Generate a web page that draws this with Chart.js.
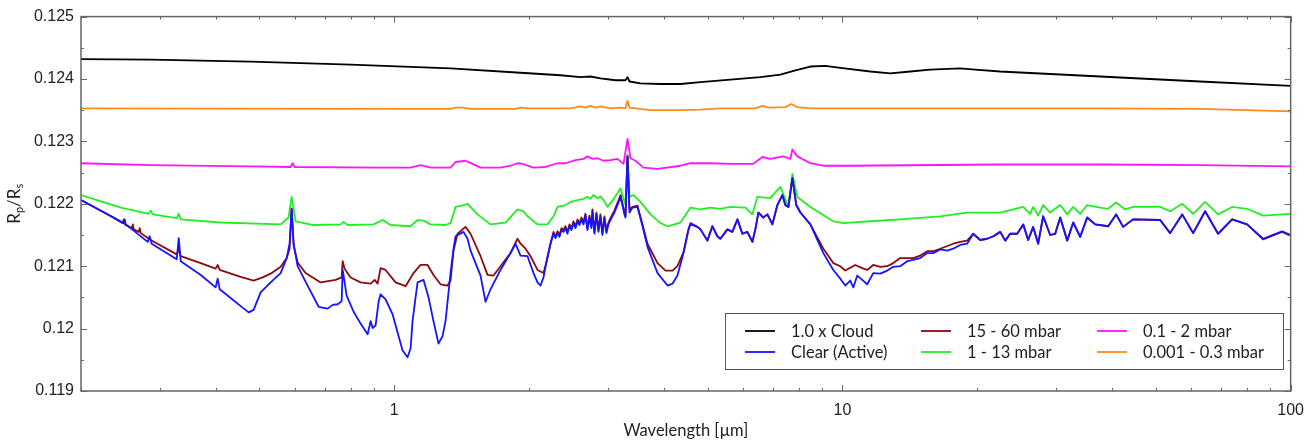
<!DOCTYPE html>
<html><head><meta charset="utf-8">
<script src="https://cdn.jsdelivr.net/npm/chart.js@4.4.1/dist/chart.umd.min.js"></script>
<style>html,body{margin:0;padding:0;background:#fff;}canvas{display:block;}</style>
</head><body>
<canvas id="c" width="1314" height="445"></canvas>
<script>
// ---------- DATA (wavelength in µm, transit radius ratio Rp/Rs) ----------
const seriesNames = ['1.0 x Cloud', 'Clear (Active)', '15 - 60 mbar', '1 - 13 mbar', '0.1 - 2 mbar', '0.001 - 0.3 mbar'];
const xTickValues = [1, 10, 100];
const yTickValues = [0.119, 0.12, 0.121, 0.122, 0.123, 0.124, 0.125];
const xAxisTitle = 'Wavelength [µm]';

const wlCloud = [0.2, 0.2862, 0.4781, 0.7991, 1.3352, 1.9128, 2.349, 2.603, 2.741, 2.884, 3.116, 3.28, 3.314, 3.349, 3.543, 3.925, 4.351, 4.822, 5.623, 6.557, 7.269, 7.852, 8.48, 9.159, 9.888, 11.54, 12.78, 14.17, 15.7, 18.31, 19.78, 22.49, 37.58, 62.81, 100];
const cloud = [0.12432, 0.12431, 0.12428, 0.12423, 0.12417, 0.1241, 0.12406, 0.12403, 0.12404, 0.12401, 0.12398, 0.12398, 0.12403, 0.12396, 0.12393, 0.12392, 0.12392, 0.12395, 0.12399, 0.12403, 0.12407, 0.12414, 0.1242, 0.12421, 0.12418, 0.12412, 0.12409, 0.12412, 0.12415, 0.12417, 0.12415, 0.12412, 0.12404, 0.12396, 0.12389];

const wlClear = [0.2, 0.2366, 0.249, 0.2504, 0.2517, 0.2818, 0.2847, 0.2876, 0.327, 0.3305,
  0.3339, 0.37, 0.3995, 0.4036, 0.4078, 0.4315, 0.4543, 0.4732, 0.4855, 0.5033,
  0.5299, 0.5578, 0.5754, 0.584, 0.5902, 0.5963, 0.6086, 0.6406, 0.6781, 0.7102,
  0.7287, 0.7477, 0.7631, 0.7671, 0.7749, 0.7829, 0.8115, 0.8412, 0.872, 0.8857,
  0.8947, 0.9085, 0.9226, 0.9322, 0.9563, 0.9913, 1.0223, 1.0436, 1.0707, 1.0872,
  1.0985, 1.1156, 1.1272, 1.1623, 1.1927, 1.2232, 1.2552, 1.2814, 1.3013, 1.3215,
  1.3352, 1.356, 1.37, 1.4273, 1.457, 1.4797, 1.5577, 1.5983, 1.6397, 1.7258,
  1.817, 1.8643, 1.9128, 1.9829, 2.0446, 2.0873, 2.1197, 2.1528, 2.1974, 2.2311,
  2.2662, 2.2891, 2.3132, 2.3367, 2.3608, 2.3857, 2.41, 2.4345, 2.4597, 2.4851,
  2.5107, 2.537, 2.5634, 2.5898, 2.6165, 2.6432, 2.67, 2.698, 2.7254, 2.7535,
  2.7682, 2.7967, 2.8253, 2.8545, 2.884, 2.9137, 2.9437, 2.974, 3.0046, 3.0367,
  3.067, 3.0986, 3.1305, 3.1631, 3.197, 3.2288, 3.2622, 3.2802,
  3.3143, 3.3487, 3.4005, 3.4887, 3.5799, 3.6728, 3.8669, 4.0709,
  4.176, 4.2836, 4.4183, 4.5321, 4.5803, 4.748, 4.8217, 4.996, 5.1248, 5.2587,
  5.3408, 5.5363, 5.6796, 5.8305, 5.9786, 6.1348, 6.2951, 6.3923, 6.4925, 6.66,
  6.8, 6.9775, 7.1565, 7.3444, 7.4559, 7.575, 7.732, 7.8886, 8.054, 8.48,
  9.064, 9.54, 9.888, 10.146, 10.409, 10.571, 10.79, 11.071, 11.357, 11.714,
  12.143, 12.587, 12.982, 13.457, 13.947, 14.385, 14.911, 15.455, 15.94, 16.524,
  17.13, 17.664, 18.31, 18.98, 19.57, 20.29, 21.03, 21.72, 22.49, 23.08,
  23.67, 24.54, 25.31, 25.96, 26.64, 27.33, 28.04, 29.07, 29.83, 30.61,
  31.73, 32.72, 33.92, 35.16, 36.63, 39.16, 40.8, 42.29, 44.5, 51.15,
  53.83, 57.28, 60.6, 64.44, 68.88, 74.02, 79.96, 86.79, 95.68, 100];
const clearActive = [0.12206, 0.12178, 0.12169, 0.12175, 0.12167, 0.12139, 0.12148, 0.12136, 0.12111, 0.12145,
  0.12108, 0.12086, 0.12066, 0.1208, 0.12063, 0.12049, 0.12036, 0.12026, 0.1203, 0.12058,
  0.12074, 0.12089, 0.12113, 0.12136, 0.12192, 0.12136, 0.121, 0.12069, 0.12035, 0.12032,
  0.12038, 0.12039, 0.12044, 0.12094, 0.12074, 0.12053, 0.12027, 0.12008, 0.11991, 0.12012,
  0.12001, 0.12005, 0.12043, 0.12055, 0.12047, 0.12023, 0.11988, 0.11965, 0.11954, 0.11968,
  0.12012, 0.1205, 0.12074, 0.12078, 0.1205, 0.12012, 0.11976, 0.11988, 0.12012, 0.12058,
  0.12089, 0.12128, 0.12148, 0.12155, 0.12144, 0.12125, 0.12085, 0.12043, 0.12063, 0.12094,
  0.12121, 0.12136, 0.12117, 0.12116, 0.12089, 0.12074, 0.12069, 0.12082, 0.12116, 0.12136,
  0.12152, 0.12145, 0.12153, 0.12147, 0.12158, 0.12155, 0.12161, 0.12152, 0.12164, 0.12158,
  0.12169, 0.12161, 0.12172, 0.12166, 0.12175, 0.12167, 0.12181, 0.12158, 0.12178, 0.12161,
  0.12188, 0.12152, 0.12183, 0.12155, 0.1218, 0.1215, 0.12177, 0.12153, 0.12167, 0.12174,
  0.1218, 0.12186, 0.12194, 0.12202, 0.12211, 0.12198, 0.12183, 0.12178,
  0.12276, 0.12186, 0.12194, 0.12195, 0.12164, 0.12131, 0.12089, 0.12069,
  0.12072, 0.12085, 0.12121, 0.12158, 0.12167, 0.12163, 0.12159, 0.12141, 0.12164, 0.12148,
  0.12144, 0.12159, 0.12155, 0.12175, 0.12152, 0.12155, 0.12139, 0.12159, 0.12186, 0.12178,
  0.12183, 0.12167, 0.12198, 0.12214, 0.12198, 0.12195, 0.12241, 0.12198, 0.12186, 0.12167,
  0.12121, 0.12094, 0.1208, 0.12069, 0.12077, 0.12066, 0.12085, 0.12078, 0.12071, 0.12089,
  0.12088, 0.12093, 0.12099, 0.121, 0.12108, 0.1211, 0.12113, 0.12121, 0.12121, 0.12127,
  0.12125, 0.12128, 0.12134, 0.12136, 0.12152, 0.12142, 0.12144, 0.12148, 0.12155, 0.12141,
  0.12152, 0.12152, 0.12167, 0.12142, 0.12163, 0.12136, 0.1218, 0.1215, 0.12152, 0.12178,
  0.12141, 0.1217, 0.12147, 0.12178, 0.12167, 0.12164, 0.12183, 0.12163, 0.12175, 0.12174,
  0.12153, 0.12183, 0.12153, 0.12188, 0.12152, 0.12175, 0.12167, 0.12144, 0.12156, 0.1215];

const wl15to60 = [0.2, 0.2331, 0.2478, 0.249, 0.2504, 0.2597, 0.261, 0.2623, 0.2691, 0.2704,
  0.2719, 0.2862, 0.327, 0.3305, 0.3339, 0.37, 0.3995, 0.4036, 0.4078, 0.4543,
  0.4855, 0.5085, 0.5299, 0.5578, 0.5754, 0.584, 0.5902, 0.5963, 0.6086, 0.6341,
  0.6851, 0.7401, 0.7631, 0.7671, 0.7749, 0.7991, 0.8412, 0.8857, 0.904, 0.918,
  0.9322, 0.9563, 1.0067, 1.0598, 1.1041, 1.1445, 1.1864, 1.2232, 1.2682, 1.3147,
  1.3352, 1.356, 1.384, 1.4421, 1.4797, 1.5577, 1.6148, 1.6653, 1.7258, 1.817,
  1.8836, 1.9128, 1.9626, 2.0137, 2.0873, 2.1528, 2.1974, 2.2311,
  2.2662, 2.2891, 2.3132, 2.3367, 2.3608, 2.3857, 2.41, 2.4345, 2.4597, 2.4851,
  2.5107, 2.537, 2.5634, 2.5898, 2.6165, 2.6432, 2.67, 2.698, 2.7254, 2.7535,
  2.7682, 2.7967, 2.8253, 2.8545, 2.884, 2.9137, 2.9437, 2.974, 3.0046, 3.0367,
  3.067, 3.0986, 3.1305, 3.1631, 3.197, 3.2288, 3.2622, 3.2802,
  3.3143, 3.3487, 3.4005, 3.4887, 3.5799, 3.6728, 3.8669, 4.0295, 4.176, 4.2836,
  4.4183, 4.5321, 4.5803, 4.748, 4.8217, 4.996, 5.1248, 5.2587, 5.3408, 5.5363,
  5.6796, 5.8305, 5.9786, 6.1348, 6.2951, 6.3923, 6.4925, 6.66, 6.8, 6.9775,
  7.1565, 7.3444, 7.4559, 7.575, 7.732, 7.8886, 8.054, 8.48, 9.064, 9.54,
  9.888, 10.146, 10.681, 11.071, 11.357, 11.714, 12.143, 12.587, 12.982, 13.457,
  14.385, 14.911, 15.455, 15.94, 16.524, 17.664, 18.31, 18.98, 19.57, 20.29,
  21.03, 21.72, 22.49, 23.08, 23.67, 24.54, 25.31, 25.96, 26.64, 27.33,
  28.04, 29.07, 29.83, 30.61, 31.73, 32.72, 33.92, 35.16, 36.63, 39.16,
  40.8, 42.29, 44.5, 51.15, 53.83, 57.28, 60.6, 64.44, 68.88, 74.02,
  79.96, 86.79, 95.68, 100];
const mbar15to60 = [0.12206, 0.1218, 0.12169, 0.12175, 0.12167, 0.12161, 0.12167, 0.12159, 0.12155, 0.12161,
  0.12153, 0.12142, 0.12119, 0.12127, 0.12116, 0.12105, 0.12096, 0.12102, 0.12094, 0.12083,
  0.12077, 0.12082, 0.12088, 0.12099, 0.12113, 0.12128, 0.12192, 0.12133, 0.12106, 0.12089,
  0.12074, 0.12078, 0.12082, 0.12108, 0.12096, 0.12082, 0.12074, 0.12072, 0.12078, 0.12072,
  0.12097, 0.12094, 0.12074, 0.12068, 0.12089, 0.12102, 0.12102, 0.12086, 0.12071, 0.12069,
  0.12077, 0.12125, 0.12152, 0.12163, 0.12152, 0.12116, 0.12086, 0.12085, 0.121, 0.12121,
  0.12144, 0.12136, 0.12128, 0.12116, 0.12094, 0.12089, 0.12113, 0.12136,
  0.12155, 0.12148, 0.12156, 0.1215, 0.12161, 0.12158, 0.12164, 0.12155, 0.12167, 0.12161,
  0.12172, 0.12164, 0.12175, 0.12169, 0.12178, 0.1217, 0.12184, 0.12161, 0.12181, 0.12164,
  0.12191, 0.12155, 0.12186, 0.12158, 0.12183, 0.12153, 0.1218, 0.12156, 0.1217, 0.12177,
  0.12183, 0.12189, 0.12197, 0.12205, 0.12214, 0.12201, 0.12186, 0.12181,
  0.12276, 0.12191, 0.12195, 0.12197, 0.12167, 0.12136, 0.12105, 0.12093, 0.12093, 0.121,
  0.12122, 0.12159, 0.12169, 0.12163, 0.12159, 0.12141, 0.12164, 0.12148, 0.12144, 0.12159,
  0.12155, 0.12175, 0.12152, 0.12155, 0.12139, 0.12159, 0.12186, 0.12178, 0.12183, 0.12167,
  0.12198, 0.12214, 0.12198, 0.12195, 0.12241, 0.12198, 0.12186, 0.12167, 0.12128, 0.12105,
  0.121, 0.12093, 0.12102, 0.12097, 0.12094, 0.12102, 0.12099, 0.121, 0.12105, 0.12113,
  0.12113, 0.12117, 0.12124, 0.12124, 0.12128, 0.12136, 0.12139, 0.12141, 0.12152, 0.12142,
  0.12144, 0.12148, 0.12155, 0.12141, 0.12152, 0.12152, 0.12167, 0.12142, 0.12163, 0.12136,
  0.1218, 0.1215, 0.12152, 0.12178, 0.12141, 0.1217, 0.12147, 0.12178, 0.12167, 0.12164,
  0.12183, 0.12163, 0.12175, 0.12174, 0.12153, 0.12183, 0.12153, 0.12188, 0.12152, 0.12175,
  0.12167, 0.12143, 0.12155, 0.12149];

const wl1to13 = [0.2, 0.2455, 0.2833, 0.2862, 0.2892, 0.327, 0.3305, 0.3339, 0.41, 0.5578,
  0.581, 0.5902, 0.6025, 0.6605, 0.7593, 0.7711, 0.787, 0.8991, 0.9417, 0.9812,
  1.0872, 1.1272, 1.1623, 1.205, 1.3013, 1.3352, 1.37, 1.4273, 1.457, 1.5338,
  1.6397, 1.7708, 1.8836, 1.942, 1.9829, 2.0873, 2.1974, 2.2662, 2.3132, 2.41,
  2.473, 2.5634, 2.6432, 2.698, 2.7405, 2.782, 2.8406, 2.884, 2.9296, 2.9902,
  3.067, 3.147, 3.197, 3.28, 3.3143, 3.3487, 3.4177, 3.543, 3.7298, 3.925,
  4.0709, 4.3509, 4.5803, 4.8217, 5.072, 5.3408, 5.6234, 6.0756, 6.2951, 6.457,
  6.902, 7.2694, 7.575, 7.732, 7.93, 8.48, 9.54, 10.04, 11.54, 13.457,
  16.524, 18.98, 22.49, 25.31, 26.23, 26.64, 27.33, 28.04, 29.07, 30.61,
  31.73, 32.72, 33.92, 35.16, 37.58, 39.16, 40.8, 42.73, 44.5, 51.15,
  53.83, 57.28, 60.6, 64.44, 68.88, 74.02, 79.96, 86.79, 100];
const mbar1to13 = [0.12214, 0.12194, 0.12184, 0.12189, 0.12183, 0.12177, 0.12184, 0.12175, 0.1217, 0.12167,
  0.12178, 0.12211, 0.12172, 0.12166, 0.12167, 0.12171, 0.12166, 0.12167, 0.12174, 0.12166,
  0.12164, 0.12174, 0.12173, 0.12167, 0.12166, 0.12169, 0.12195, 0.12198, 0.122, 0.12183,
  0.12167, 0.1217, 0.12191, 0.12188, 0.1218, 0.12167, 0.12167, 0.1218, 0.12195, 0.12198,
  0.12203, 0.12206, 0.12208, 0.12211, 0.12208, 0.12214, 0.12209, 0.12212, 0.12206, 0.12195,
  0.12205, 0.12217, 0.12225, 0.12198, 0.12279, 0.12211, 0.12214, 0.12203, 0.12183, 0.12169,
  0.12164, 0.1217, 0.12194, 0.12191, 0.12194, 0.12192, 0.12195, 0.12194, 0.12183, 0.12211,
  0.12209, 0.12227, 0.12195, 0.12248, 0.12211, 0.12195, 0.12172, 0.12169, 0.12172, 0.12175,
  0.1218, 0.12186, 0.12186, 0.12195, 0.12184, 0.12195, 0.12181, 0.12198, 0.12186, 0.12198,
  0.12183, 0.12195, 0.12184, 0.12198, 0.12194, 0.12192, 0.12202, 0.12191, 0.12195, 0.12195,
  0.12188, 0.122, 0.12184, 0.12203, 0.12183, 0.12195, 0.12192, 0.12181, 0.12184];

const wl01to2 = [0.2, 0.2862, 0.4781, 0.5871, 0.5932, 0.5994, 0.9322, 1.0872, 1.1445, 1.205,
  1.3352, 1.37, 1.4421, 1.495, 1.5577, 1.7258, 1.817, 1.8836, 1.932, 2.0446,
  2.175, 2.3132, 2.41, 2.537, 2.6432, 2.698, 2.7682, 2.8406, 2.9296, 3.0367,
  3.147, 3.2468, 3.3143, 3.3651, 3.452, 3.597, 3.8669, 4.3509, 4.5803, 5.072,
  5.6234, 6.325, 6.626, 6.902, 7.379, 7.653, 7.732, 7.93, 8.48, 9.064,
  10.409, 22.49, 37.58, 62.81, 100];
const mbar01to2 = [0.12265, 0.12262, 0.1226, 0.12259, 0.12265, 0.12259, 0.12258, 0.12258, 0.12262, 0.12258,
  0.12258, 0.12267, 0.12269, 0.12264, 0.12258, 0.12258, 0.12261, 0.12265, 0.12264, 0.12258,
  0.12259, 0.12265, 0.12265, 0.1227, 0.12272, 0.12276, 0.12272, 0.12273, 0.12269, 0.1227,
  0.12272, 0.12264, 0.12304, 0.12273, 0.12269, 0.12258, 0.12256, 0.12261, 0.12265, 0.12265,
  0.12264, 0.12264, 0.12275, 0.12272, 0.12276, 0.12272, 0.12287, 0.12276, 0.12265, 0.12261,
  0.12261, 0.12263, 0.12263, 0.12262, 0.1226];

const wl0001to03 = [0.2, 1.033, 1.3352, 1.37, 1.42, 1.4797, 1.8643, 1.9128, 1.993, 2.473,
  2.603, 2.67, 2.741, 2.811, 2.884, 3.037, 3.197, 3.28, 3.314, 3.349,
  3.452, 3.73, 4.351, 4.822, 5.341, 6.392, 6.626, 6.833, 7.456, 7.691,
  7.93, 8.48, 13.46, 22.49, 37.58, 62.81, 100];
const mbar0001to03 = [0.12353, 0.12352, 0.12352, 0.12354, 0.12354, 0.12352, 0.12352, 0.12354, 0.12353, 0.12353,
  0.12356, 0.12354, 0.12357, 0.12354, 0.12356, 0.12353, 0.12354, 0.12353, 0.12365, 0.12354,
  0.12353, 0.1235, 0.1235, 0.12351, 0.12353, 0.12353, 0.12357, 0.12354, 0.12355, 0.1236,
  0.12355, 0.12353, 0.12353, 0.12353, 0.12353, 0.12352, 0.12348];

// ---------- CHART ----------
function pts(wl, v) { return wl.map((w, i) => ({ x: w, y: v[i] })); }
const seriesColors = ['#000000', '#1414ff', '#8c0a0a', '#22ee22', '#ff14ff', '#ff8a1e'];
const seriesData = [pts(wlCloud, cloud), pts(wlClear, clearActive), pts(wl15to60, mbar15to60),
  pts(wl1to13, mbar1to13), pts(wl01to2, mbar01to2), pts(wl0001to03, mbar0001to03)];

const TICK_FONT = "'Liberation Sans', Arial, sans-serif";
const TEXT_FONT = "Lato, 'Open Sans', sans-serif";
Chart.defaults.font.family = TICK_FONT;
Chart.defaults.color = '#222';

const deco = {
  id: 'deco',
  afterDraw(chart) {
    const { ctx, chartArea: a, scales: { x, y } } = chart;
    ctx.save();
    const seg = (x1, y1, x2, y2) => { ctx.beginPath(); ctx.moveTo(x1, y1); ctx.lineTo(x2, y2); ctx.stroke(); };
    // inward ticks on all four sides
    ctx.strokeStyle = '#666'; ctx.lineWidth = 1;
    for (let d = -1; d <= 2; d++) {
      for (let m = 1; m <= 9; m++) {
        const v = m * Math.pow(10, d);
        if (v < 0.2 - 1e-9 || v > 100 + 1e-9) continue;
        const px = Math.round(x.getPixelForValue(v)) + 0.5;
        const L = (m === 1) ? 6 : 3;
        seg(px, a.bottom, px, a.bottom - L);
        seg(px, a.top, px, a.top + L);
      }
    }
    for (let i = 0; i <= 12; i++) {
      const v = yTickValues[0] + i * 0.0005;
      const py = Math.round(y.getPixelForValue(v)) + 0.5;
      const L = (i % 2 === 0) ? 6 : 3;
      seg(a.left, py, a.left + L, py);
      seg(a.right, py, a.right - L, py);
    }
    // frame
    ctx.strokeStyle = '#666'; ctx.lineWidth = 1.5;
    ctx.strokeRect(a.left, a.top, a.right - a.left, a.bottom - a.top);

    // x axis title
    ctx.fillStyle = '#222';
    ctx.font = '16.5px ' + TEXT_FONT;
    ctx.textAlign = 'center'; ctx.textBaseline = 'alphabetic';
    ctx.fillText(xAxisTitle, (a.left + a.right) / 2, 436);

    // y axis title R_p/R_s
    ctx.save();
    ctx.translate(19.5, (a.top + a.bottom) / 2);
    ctx.rotate(-Math.PI / 2);
    const parts = [['R', 17, 0], ['p', 11, 3], ['/R', 17, 0], ['s', 11, 3]];
    let total = 0;
    parts.forEach(p => { ctx.font = p[1] + 'px ' + TEXT_FONT; total += ctx.measureText(p[0]).width; });
    let cx = -total / 2;
    ctx.textAlign = 'left';
    parts.forEach(p => { ctx.font = p[1] + 'px ' + TEXT_FONT; ctx.fillText(p[0], cx, p[2]); cx += ctx.measureText(p[0]).width; });
    ctx.restore();

    // legend box
    const bx = 725, by = 313, bw = 558, bh = 56;
    ctx.fillStyle = '#fff'; ctx.fillRect(bx, by, bw, bh);
    ctx.strokeStyle = '#555'; ctx.lineWidth = 1;
    ctx.strokeRect(bx + 0.5, by + 0.5, bw, bh);
    const colX = [745, 921, 1097];
    const rowY = [331, 352];
    ctx.font = '16.5px ' + TEXT_FONT;
    ctx.textAlign = 'left'; ctx.textBaseline = 'middle';
    seriesNames.forEach((name, i) => {
      const c = Math.floor(i / 2), r = i % 2;
      ctx.strokeStyle = seriesColors[i]; ctx.lineWidth = 1.8;
      seg(colX[c], rowY[r], colX[c] + 30, rowY[r]);
      ctx.fillStyle = '#222';
      ctx.fillText(name, colX[c] + 46, rowY[r] + 1);
    });
    ctx.restore();
  }
};

new Chart(document.getElementById('c'), {
  type: 'line',
  data: {
    datasets: seriesNames.map((name, i) => ({
      label: name,
      data: seriesData[i],
      borderColor: seriesColors[i],
      backgroundColor: seriesColors[i],
      borderWidth: 1.8,
      pointRadius: 0,
      tension: 0,
      fill: false,
      borderJoinStyle: 'round'
    }))
  },
  options: {
    responsive: false,
    animation: false,
    events: [],
    layout: { autoPadding: false, padding: { top: 6, right: 23, bottom: 0, left: 0 } },
    scales: {
      x: {
        type: 'logarithmic', min: 0.2, max: 100,
        grid: { display: false, drawTicks: false },
        border: { display: false },
        afterBuildTicks: s => { s.ticks = xTickValues.map(v => ({ value: v })); },
        afterFit: s => { s.height = 54; },
        ticks: { autoSkip: false, maxRotation: 0, padding: 10, font: { family: TICK_FONT, size: 16 }, color: '#222',
          callback: v => String(v) }
      },
      y: {
        type: 'linear', min: 0.119, max: 0.125,
        grid: { display: false, drawTicks: false },
        border: { display: false },
        afterBuildTicks: s => { s.ticks = yTickValues.map(v => ({ value: v })); },
        afterFit: s => { s.width = 81; },
        ticks: { padding: 7, font: { family: TICK_FONT, size: 16 }, color: '#222',
          callback: v => String(parseFloat(Number(v).toFixed(3))) }
      }
    },
    plugins: { legend: { display: false }, tooltip: { enabled: false }, title: { display: false } }
  },
  plugins: [deco]
});
</script>
</body></html>
